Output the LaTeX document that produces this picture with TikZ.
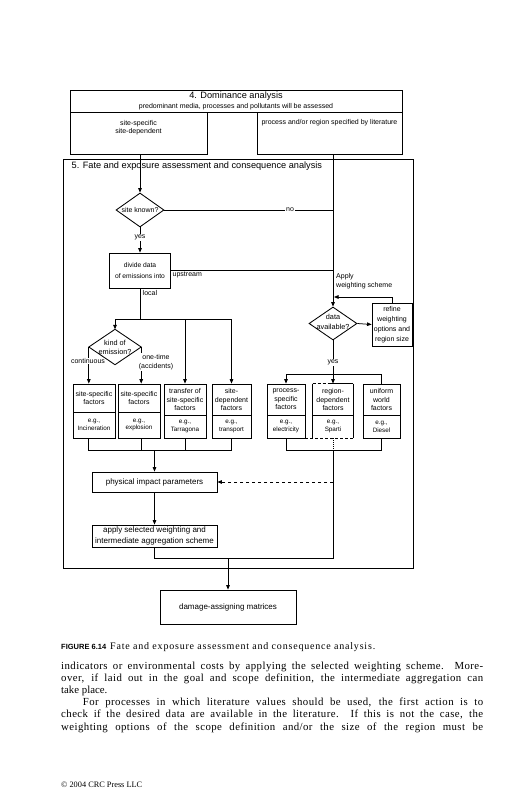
\documentclass[tikz,border=0pt]{standalone}
\usepackage{fontspec}
\setmainfont{Liberation Serif}
\newfontfamily\dsans{Liberation Sans}
\newfontfamily\spaced[LetterSpace=4]{Liberation Serif}
\newfontfamily\capspaced[LetterSpace=8]{Liberation Serif}
\usetikzlibrary{shapes.geometric,arrows.meta}
\begin{document}
\begin{tikzpicture}[x=1pt,y=-1pt,
  ln/.style={line width=0.75pt},
  arr/.style={line width=0.75pt,-{Triangle[length=4.5pt,width=3.6pt]}},
  bx/.style={draw,line width=0.85pt,inner sep=1pt,align=center,font=\dsans\fontsize{7}{8.6}\selectfont},
  sm/.style={font=\dsans\fontsize{6.3}{7.8}\selectfont},
  dia/.style={draw,line width=0.85pt,diamond,inner sep=0pt},
  lab/.style={inner sep=0.7pt,fill=white,align=center,font=\dsans\fontsize{7}{9.5}\selectfont},
  txt/.style={inner sep=0pt,align=left,font=\dsans\fontsize{7}{9}\selectfont},
  body/.style={anchor=base west,inner sep=0pt,font=\spaced\fontsize{10.8}{12.2}\selectfont},
]
\useasboundingbox (0,0) rectangle (518,800);
\fill[white] (0,0) rectangle (518,800);

% ---------- header: 4. Dominance analysis
\node[bx,minimum width=332,minimum height=22,font=\dsans\fontsize{7}{10}\selectfont] (dom) at (236,101)
  {{\fontsize{9.2}{10}\selectfont 4. Dominance analysis}\\predominant media, processes and pollutants will be assessed};
\node[bx,minimum width=137,minimum height=42,
  label={[txt,align=center,font=\dsans\fontsize{7}{8.4}\selectfont,yshift=5.5pt]center:site-specific\\site-dependent}] (ssp) at (138.5,133) {};
\node[bx,minimum width=145,minimum height=42,
  label={[txt,yshift=10pt]center:process and/or region specified by literature}] (lit) at (329.5,133) {};

% ---------- frame 5
\node[draw,line width=0.85pt,minimum width=350,minimum height=409,inner sep=0pt] (frame) at (238,363.5) {};
\node[anchor=west,inner sep=0pt,font=\dsans\fontsize{9.2}{10}\selectfont] (t5) at (71.5,166)
  {5. Fate and exposure assessment and consequence analysis};

% ---------- decisions and boxes
\node[dia,minimum width=48,minimum height=34,
  label={[txt]center:site known?}] (sk) at (140,210) {};
\node[bx,minimum width=61,minimum height=35,font=\dsans\fontsize{6.7}{11}\selectfont] (div) at (140,270.5)
  {divide data\\of emissions into};
\node[dia,minimum width=48,minimum height=33,
  label={[txt,align=center,font=\dsans\fontsize{7.3}{10}\selectfont,yshift=2pt]center:data\\available?}] (da) at (333,323.5) {};
\node[bx,minimum width=40,minimum height=43,font=\dsans\fontsize{7}{9.8}\selectfont] (ref) at (392,324.5)
  {refine\\weighting\\options and\\region size};
\node[minimum width=52,minimum height=35,diamond,inner sep=0pt,
  label={[txt,align=center,font=\dsans\fontsize{7.3}{9}\selectfont]center:kind of\\emission?}] (kind) at (115,347) {};

% row of factor boxes
\node[bx,minimum width=42,minimum height=28] (b1t) at (94,398) {site-specific\\factors};
\node[bx,sm,minimum width=42,minimum height=26] (b1b) at (94,425) {e.g.,\\Incineration};
\node[bx,minimum width=42,minimum height=28] (b2t) at (139,398) {site-specific\\factors};
\node[bx,sm,minimum width=42,minimum height=26] (b2b) at (139,425) {e.g.,\\explosion};
\node[bx,minimum width=42,minimum height=31] (b3t) at (185,399.5) {transfer of\\site-specific\\factors};
\node[bx,sm,minimum width=42,minimum height=23] (b3b) at (185,426.5) {e.g.,\\Tarragona};
\node[bx,minimum width=39,minimum height=31] (b4t) at (231.5,399.5) {site-\\dependent\\factors};
\node[bx,sm,minimum width=39,minimum height=23] (b4b) at (231.5,426.5) {e.g.,\\transport};
\node[bx,minimum width=38,minimum height=31] (b5t) at (286,399.5) {process-\\specific\\factors};
\node[bx,sm,minimum width=38,minimum height=23] (b5b) at (286,426.5) {e.g.,\\electricity};
\node[bx,draw=none,minimum width=40,minimum height=31] (b6t) at (333,399.5) {region-\\dependent\\factors};
\node[bx,sm,draw=none,minimum width=40,minimum height=23] (b6b) at (333,426.5) {e.g.,\\Sparti};
\node[bx,minimum width=37,minimum height=31] (b7t) at (381.5,399.5) {uniform\\world\\factors};
\node[bx,sm,minimum width=37,minimum height=23] (b7b) at (381.5,426.5) {e.g.,\\Diesel};

% partly dashed box
\draw[line width=0.85pt] (b6t.north west) -- (b6b.south west);
\draw[line width=0.85pt] (b6t.north east) -- (b6b.south east);
\draw[line width=0.85pt] (b6t.south west) -- (b6t.south east);
\draw[line width=0.85pt,dash pattern=on 3pt off 2pt] (b6t.north west) -- ([xshift=-2pt]b6t.north);
\draw[line width=0.85pt] ([xshift=-2pt]b6t.north) -- (b6t.north east);
\draw[line width=0.85pt,dash pattern=on 3pt off 2pt] (b5b.south east) -- (b6b.south east);

\node[bx,font=\dsans\fontsize{8}{9.5}\selectfont,minimum width=125,minimum height=20] (phys) at (154.5,482)
  {physical impact parameters};
\node[bx,font=\dsans\fontsize{8}{10.5}\selectfont,minimum width=125,minimum height=22] (apply) at (154.5,536)
  {apply selected weighting and\\intermediate aggregation scheme};
\node[bx,font=\dsans\fontsize{8}{9.5}\selectfont,minimum width=136,minimum height=34] (dmg) at (228,607)
  {damage-assigning matrices};

% ---------- junction coordinates
\coordinate (fb) at (334,297);
\coordinate (rT) at (333,374);
\coordinate (lT) at (140,319);
\coordinate (lB) at (154.5,450);
\coordinate (jR) at (333,450);
\coordinate (jB) at (333,558);

% ---------- connectors
\draw[arr] (ssp.south -| sk.north) -- (sk.north);
\draw[arr] (lit.south -| da.north) -- (da.north);
\draw[ln] (sk.east) -- (sk.east -| da.north) node[lab,pos=0.745] {no};
\draw[arr] (sk.south) -- (div.north) node[lab,pos=0.4] {yes};
\draw[ln] (div.east) -- (div.east -| da.north);
\node[txt,anchor=north west] (up) at (172.5,272) {upstream};
\node[txt,anchor=north west] (aws) at (336,273.5) {Apply\\weighting scheme};
\draw[arr] (ref.north) |- (fb);
\draw[arr] (da.east) -- (ref.west);
\draw[ln] (da.south) -- (rT) node[lab,pos=0.65] {yes};
\draw[ln] (b5t.north |- rT) -- (b7t.north |- rT);
\draw[arr] (b5t.north |- rT) -- (b5t.north);
\draw[arr] (rT) -- (b6t.north);
\draw[ln] (b7t.north |- rT) -- (b7t.north);

\draw[ln] (div.south) -- (lT);
\node[txt,anchor=west] (loc) at (142.5,293) {local};
\draw[ln] (kind.north |- lT) -- (b4t.north |- lT);
\draw[arr] (kind.north |- lT) -- (kind.north);
\draw[arr] (b3t.north |- lT) -- (b3t.north);
\draw[arr] (b4t.north |- lT) -- (b4t.north);
\draw[arr] (kind.west) -- (kind.west |- b1t.north);
\draw[arr] (kind.east) -- (kind.east |- b2t.north);
\node[lab] (cont) at (88,361) {continuous};
\node[lab] (once) at (156,362) {one-time\\(accidents)};
\draw[line width=0.85pt] (kind.north) -- (kind.east) -- (kind.south) -- (kind.west) -- cycle;

\draw[ln] (kind.west |- b1b.south) -- (kind.west |- lB) -- (b4b.south |- lB) -- (b4b.south);
\draw[ln] (kind.east |- b2b.south) -- (kind.east |- lB);
\draw[ln] (b3b.south) -- (b3b.south |- lB);
\draw[arr] (lB) -- (phys.north);

\draw[ln] (b5b.south) -- (b5b.south |- jR) -- (b7b.south |- jR) -- (b7b.south);
\draw[ln,dash pattern=on 1pt off 1pt] (b6b.south) -- (jR);
\draw[ln] (jR) -- (jB) -- (jB -| apply.south) -- (apply.south);
\draw[arr,dash pattern=on 3pt off 3pt] (jR |- phys.east) -- (phys.east);
\draw[arr] (phys.south) -- (apply.north);
\draw[arr] (jB -| dmg.north) -- (dmg.north);

% ---------- caption and page text
\node[anchor=base west,inner sep=0pt] (cap) at (61,649)
  {{\dsans\bfseries\fontsize{7.5}{9}\selectfont FIGURE 6.14}\hspace{4pt}{\capspaced\fontsize{10}{12}\selectfont Fate and exposure assessment and consequence analysis.}};
\node[body] (l1) at (61,669) {\makebox[422pt][s]{indicators or environmental costs by applying the selected weighting scheme. More-}};
\node[body] (l2) at (61,681.2) {\makebox[422pt][s]{over, if laid out in the goal and scope definition, the intermediate aggregation can}};
\node[body,font=\fontsize{10.8}{12.2}\selectfont] (l3) at (61,693.4) {take place.};
\node[body] (l4) at (82.7,705.6) {\makebox[400.3pt][s]{For processes in which literature values should be used, the first action is to}};
\node[body] (l5) at (61,717.8) {\makebox[422pt][s]{check if the desired data are available in the literature. If this is not the case, the}};
\node[body] (l6) at (61,730) {\makebox[422pt][s]{weighting options of the scope definition and/or the size of the region must be}};
\node[anchor=base west,inner sep=0pt,font=\fontsize{8.3}{10}\selectfont] (copy) at (61,787) {© 2004 CRC Press LLC};
\end{tikzpicture}
\end{document}
